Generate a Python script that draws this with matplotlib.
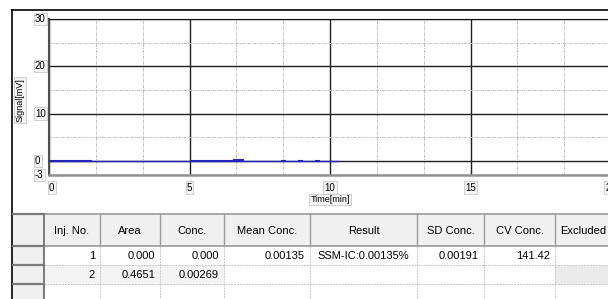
import matplotlib.pyplot as plt
from matplotlib.patches import Rectangle
from matplotlib.ticker import MultipleLocator

plt.rcParams['font.family'] = ['Liberation Sans', 'DejaVu Sans']

# chromatogram trace (Time[min], Signal[mV])
trace_time = [0.0, 10.3]
trace_signal = [0.0, 0.0]
noise_segments = [
    ([0.0, 0.7], [-0.05, -0.05]),
    ([0.8, 1.5], [-0.05, -0.05]),
    ([5.1, 6.5], [-0.05, -0.05]),
    ([6.6, 6.9], [0.2, 0.2]),
    ([8.3, 8.4], [-0.05, -0.05]),
    ([8.9, 9.0], [-0.05, -0.05]),
    ([9.5, 9.6], [-0.05, -0.05]),
]
x_ticks = [0, 5, 10, 15, 20]
y_ticks = [-3, 0, 10, 20, 30]

# result table
columns = ['Inj. No.', 'Area', 'Conc.', 'Mean Conc.', 'Result', 'SD Conc.', 'CV Conc.', 'Excluded']
row1 = ['1', '0.000', '0.000', '0.00135', 'SSM-IC:0.00135%', '0.00191', '141.42', '']
row2 = ['2', '0.4651', '0.00269', '', '', '', '', '']

W, H = 608, 299
fig = plt.figure(figsize=(W / 100, H / 100), dpi=100)

# pixel geometry of the plot area
px_left, px_top, px_bottom = 49, 19, 175
px_per_min = 28.1
x_max = (W - px_left) / px_per_min
ax = fig.add_axes([px_left / W, 1 - px_bottom / H, (W - px_left) / W, (px_bottom - px_top) / H])
ax.set_xlim(0, x_max)
ax.set_ylim(-3, 30)

ax.xaxis.set_major_locator(MultipleLocator(5))
ax.xaxis.set_minor_locator(MultipleLocator(5 / 3))
ax.yaxis.set_major_locator(MultipleLocator(10))
ax.yaxis.set_minor_locator(MultipleLocator(5))
ax.grid(True, which='major', color='#202020', lw=1.0)
ax.grid(True, which='minor', color='#bdbdbd', lw=0.7, ls=(0, (3, 1, 1, 1)))
ax.tick_params(which='both', length=0, labelleft=False, labelbottom=False)
ax.set_axisbelow(True)
ax.spines['right'].set_visible(False)
ax.spines['top'].set_color('#101010')
ax.spines['left'].set_color('#505050')
ax.spines['left'].set_linewidth(1.5)
ax.spines['bottom'].set_color('#909090')
ax.spines['bottom'].set_linewidth(1.8)

ax.plot(trace_time, trace_signal, color='#2424b8', lw=1.0, zorder=3)
for seg_t, seg_s in noise_segments:
    ax.plot(seg_t, seg_s, color='#2424b8', lw=1.5, zorder=3)

box = dict(boxstyle='square,pad=0.12', fc='#f4f4f4', ec='#c8c8c8', lw=0.6)

# overlay in pixel coordinates for frame, tick labels and table
ov = fig.add_axes([0, 0, 1, 1], zorder=5)
ov.set_xlim(0, W)
ov.set_ylim(H, 0)
ov.axis('off')
ov.patch.set_alpha(0)

for v in y_ticks:
    yp = ax.transData.transform((0, v))[1]
    ov.text(35, H - yp, str(v), ha='left', va='center', fontsize=7, bbox=box)
for v in x_ticks:
    ax.text(v, -4.6, str(v), ha='left' if v == 0 else 'center', va='top', fontsize=7,
            bbox=box, clip_on=False)
ax.text(10, -7.2, 'Time[min]', ha='center', va='top', fontsize=6.5, bbox=box, clip_on=False)

ov.text(20, 100, 'Signal[mV]', rotation=90, ha='center', va='center', fontsize=6.5, bbox=box)
ov.plot([12, 12], [10, H], color='black', lw=1.2)
ov.plot([12, W], [10, 10], color='black', lw=1.2)

col_edges = [44, 100, 160, 224, 310, 417, 484, 555, 640]
row_edges = [214, 246, 265, 284, 310]

# row header column
ov.add_patch(Rectangle((12.5, row_edges[0]), 31.5, H - row_edges[0], fc='#f0f0f0', ec='none'))
# header row
ov.add_patch(Rectangle((44, row_edges[0]), W - 44, row_edges[1] - row_edges[0], fc='#f0f0f0', ec='none'))
# row 2 shaded cells
for c in [0, 1, 2]:
    ov.add_patch(Rectangle((col_edges[c], row_edges[2]), col_edges[c + 1] - col_edges[c],
                           row_edges[3] - row_edges[2], fc='#f3f3f3', ec='none'))
ov.add_patch(Rectangle((col_edges[7], row_edges[2] + 1), W - col_edges[7],
                       row_edges[3] - row_edges[2] - 1, fc='#ebebeb', ec='none'))

for y in row_edges[:4]:
    ov.plot([12.5, 44], [y, y], color='#7a7a7a', lw=1.6)
ov.plot([44, W], [row_edges[0], row_edges[0]], color='#9a9a9a', lw=1.2)
ov.plot([44, W], [row_edges[1], row_edges[1]], color='#9a9a9a', lw=1.2)
for y in row_edges[2:4]:
    ov.plot([44, W], [y, y], color='#c4c4c4', lw=0.7, ls=(0, (2, 1)))
ov.plot([44, 44], [row_edges[0], H], color='#7a7a7a', lw=1.4)
for x in col_edges[1:-1]:
    ov.plot([x, x], [row_edges[0], row_edges[1]], color='#9a9a9a', lw=1.0)
    ov.plot([x, x], [row_edges[1], H], color='#c8c8c8', lw=0.7, ls=(0, (2, 1)))

for i, name in enumerate(columns):
    xc = (col_edges[i] + col_edges[i + 1]) / 2
    if i == len(columns) - 1:
        xc = col_edges[i] + 28
    ov.text(xc, (row_edges[0] + row_edges[1]) / 2 + 1, name, ha='center', va='center', fontsize=8)

for r, row in enumerate([row1, row2]):
    yc = (row_edges[r + 1] + row_edges[r + 2]) / 2 + 0.5
    for i, val in enumerate(row):
        if not val:
            continue
        if i == 4:
            ov.text((col_edges[i] + col_edges[i + 1]) / 2, yc, val, ha='center', va='center', fontsize=8)
        else:
            ov.text(col_edges[i + 1] - 5, yc, val, ha='right', va='center', fontsize=8)

fig.savefig('out.png', dpi=100)
